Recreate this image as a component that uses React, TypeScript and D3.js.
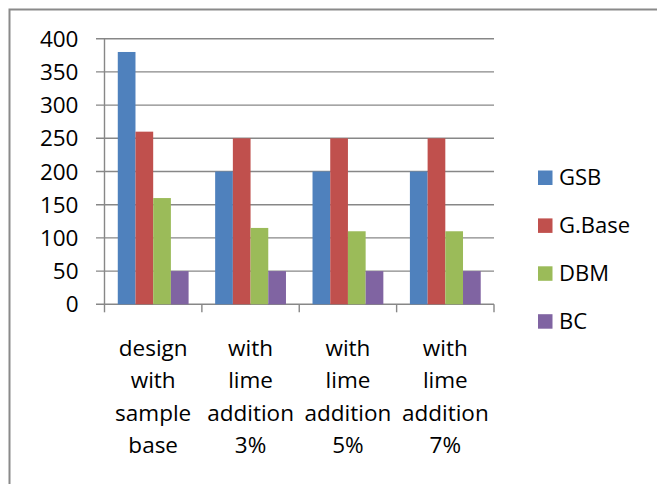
import React from "react";
import * as d3 from "d3";

const categories = [
  ["design", "with", "sample", "base"],
  ["with", "lime", "addition", "3%"],
  ["with", "lime", "addition", "5%"],
  ["with", "lime", "addition", "7%"],
];
const seriesNames = ["GSB", "G.Base", "DBM", "BC"];
const seriesColors = ["#4F81BD", "#C0504D", "#9BBB59", "#8064A2"];
const GSB = [380, 200, 200, 200];
const GBase = [260, 250, 250, 250];
const DBM = [160, 115, 110, 110];
const BC = [50, 50, 50, 50];
const yTicks = [0, 50, 100, 150, 200, 250, 300, 350, 400];

const seriesValues = [GSB, GBase, DBM, BC];
const FONT = "'Open Sans', sans-serif";

export default function App() {
  const left = 104.5, right = 494, top = 38.7, bottom = 304.3;
  const y = d3.scaleLinear().domain([0, 400]).range([bottom, top]);
  const catKeys = categories.map((_, i) => String(i));
  const x = d3.scaleBand().domain(catKeys).range([left, right]).paddingInner(0).paddingOuter(0);
  const xs = d3.scaleBand().domain(seriesNames).range([0, x.bandwidth()]).paddingInner(0).paddingOuter(0.75);
  const gridColor = "#878787";

  return (
    <svg width={657} height={484} style={{ position: "absolute", left: 0, top: 0 }} fontFamily={FONT}>
      <rect x={0} y={0} width={657} height={484} fill="#fff" />
      <rect x={9.5} y={9.5} width={700} height={600} fill="none" stroke="#8a8a8a" strokeWidth={2} />
      {yTicks.map((t) => (
        <g key={t}>
          <line x1={left - 8.5} x2={right} y1={y(t)} y2={y(t)} stroke={gridColor} strokeWidth={1.4} />
          <text x={78.5} y={y(t)} dy="0.36em" textAnchor="end" fontSize={22.5} fill="#000">{t}</text>
        </g>
      ))}
      <line x1={left} x2={left} y1={top} y2={bottom} stroke={gridColor} strokeWidth={1.4} />
      {catKeys.map((k) => (
        <line key={"t" + k} x1={x(k)!} x2={x(k)!} y1={bottom} y2={bottom + 8} stroke={gridColor} strokeWidth={1.4} />
      ))}
      <line x1={right} x2={right} y1={bottom} y2={bottom + 8} stroke={gridColor} strokeWidth={1.4} />
      {seriesValues.map((vals, si) =>
        vals.map((v, ci) => (
          <rect
            key={si + "-" + ci}
            x={x(String(ci))! + xs(seriesNames[si])!}
            y={y(v)}
            width={xs.bandwidth()}
            height={y(0) - y(v)}
            fill={seriesColors[si]}
          />
        ))
      )}
      {categories.map((lines, ci) => (
        <text key={"c" + ci} textAnchor="middle" fontSize={22.5} fill="#000">
          {lines.map((ln, li) => (
            <tspan key={li} x={x(String(ci))! + x.bandwidth() / 2} y={356 + li * 32.3}>{ln}</tspan>
          ))}
        </text>
      ))}
      {seriesNames.map((n, i) => (
        <g key={n} transform={`translate(538, ${170.5 + i * 47.9})`}>
          <rect x={0} y={0} width={14.5} height={14.5} fill={seriesColors[i]} />
          <text x={21} y={14.5} fontSize={22} fill="#000">{n}</text>
        </g>
      ))}
    </svg>
  );
}
